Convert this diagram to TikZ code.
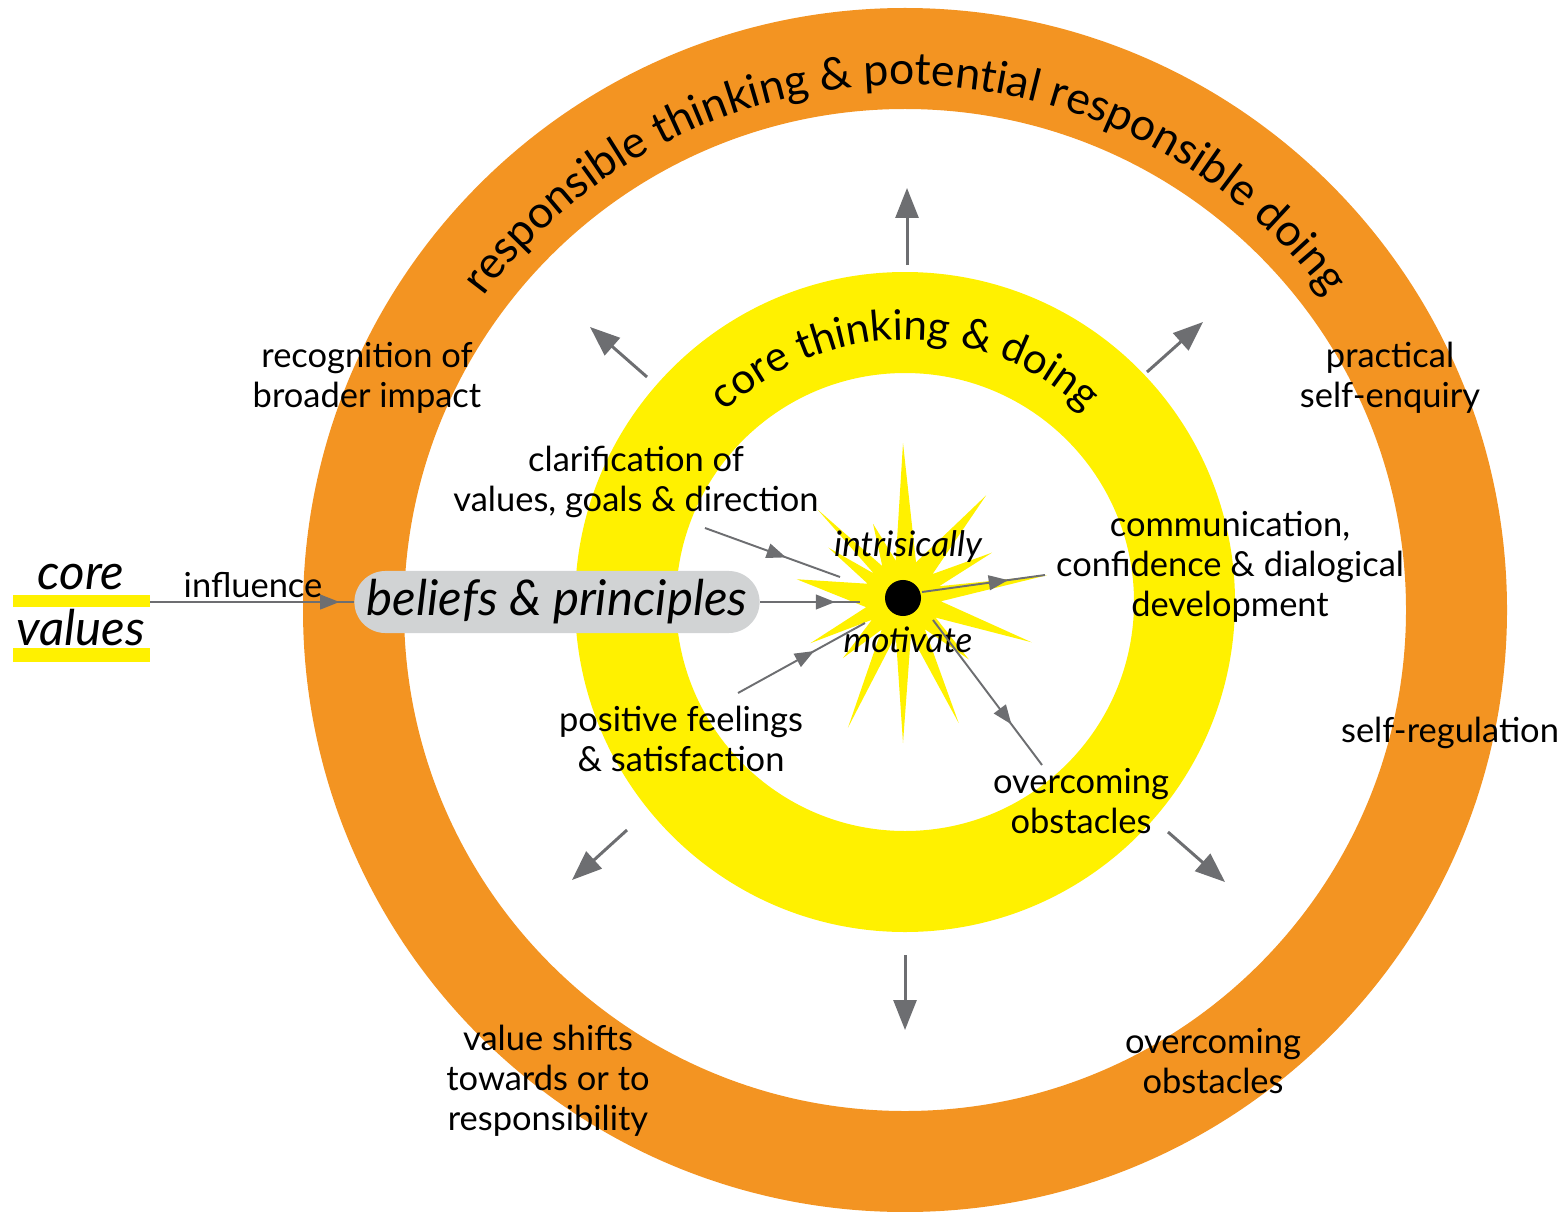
\documentclass[tikz,border=0pt]{standalone}
\usepackage{fontspec}
\setmainfont{Lato}
\usetikzlibrary{arrows.meta,decorations.markings,decorations.text}
\definecolor{ringorange}{HTML}{F39422}
\definecolor{ringyellow}{HTML}{FFF100}
\definecolor{arrowgray}{HTML}{6D6E71}
\definecolor{boxgray}{HTML}{D1D3D4}
\begin{document}
\begin{tikzpicture}[x=0.01cm,y=0.01cm,
  lbl/.style={align=center, font=\fontsize{9.8}{11.4}\selectfont, inner sep=0pt},
  ital/.style={font=\fontsize{10}{11}\selectfont\itshape, inner sep=0pt},
  big/.style={font=\fontsize{14}{15}\selectfont\itshape, inner sep=0pt},
  outarrow/.style={draw=arrowgray, line width=0.85pt, -{Triangle[length=8.5pt,width=6.5pt,fill=arrowgray]}},
  midarrow/.style={color=arrowgray, line width=0.55pt, postaction=decorate,
    decoration={markings, mark=at position #1 with {\arrow{Triangle[length=5.5pt,width=4.2pt]}}}},
  midarrow/.default=0.6,
  bar/.style={fill=ringyellow}
]
\useasboundingbox (0,0) rectangle (1564,1211);

% rings
\fill[ringorange, even odd rule] (905,601) circle[radius=602] (905,601) circle[radius=501];
\fill[ringyellow, even odd rule] (905,609) circle[radius=330] (905,609) circle[radius=229];

% curved titles
\path[decoration={text along path, text align=center,
  text={|\fontsize{12.7}{13}\selectfont|responsible thinking {\&} potential responsible doing}}, decorate]
  (905,601) ++(170:525) arc[start angle=170, end angle=10, radius=525];
\path[decoration={text along path, text align=center,
  text={|\fontsize{12}{13}\selectfont|core thinking {\&} doing}}, decorate]
  (905,609) ++(165:262) arc[start angle=165, end angle=15, radius=262];

% starburst
\begin{scope}[shift={(903,613)}]
\fill[ringyellow] (90:155) -- (70:38) -- (51:132) -- (39:38) -- (27:100) -- (18:38) -- (9:146) -- (-5:38)
 -- (-19:136) -- (-31:38) -- (-43:90) -- (-55:38) -- (-66:137) -- (-78:38) -- (-90:145) -- (-101:38)
 -- (-113:141) -- (-124:38) -- (-135:85) -- (-145:38) -- (-154:103) -- (-166:38) -- (170:108) -- (158:38)
 -- (146:90) -- (140:38) -- (134:123) -- (123:38) -- (112:80) -- (101:38) -- cycle;
\end{scope}
\node (dot) [circle, fill=black, minimum size=0.36cm, inner sep=0pt] at (903,613) {};

% core values
\fill[bar] (13,604) rectangle (150,616);
\fill[bar] (13,549) rectangle (150,563);
\node[big] (core) at (81,634) {core};
\node[big] (values) at (81,583) {values};
\coordinate (cvout) at (150,609);

% beliefs box
\node (beliefs) [fill=boxgray, rounded corners=0.31cm, minimum width=4.05cm, minimum height=0.62cm,
  inner sep=0pt, font=\fontsize{14}{15}\selectfont\itshape] at (557,609) {beliefs \& principles};

% labels
\node[lbl] (recog) at (367,833) {recognition of\\broader impact};
\node[lbl] (pract) at (1390,833) {practical\\self-enquiry};
\node[lbl] (selfreg) at (1450,478) {self-regulation};
\node[lbl] (overout) at (1213,150) {overcoming\\obstacles};
\node[lbl] (shifts) at (548,130) {value shifts\\towards or to\\responsibility};
\node[lbl] (clarif) at (636,729) {clarification of\\values, goals \& direction};
\node[lbl] (comm) at (1230,644) {communication,\\confidence \& dialogical\\development};
\node[lbl] (feel) at (681,472) {positive feelings\\\& satisfaction};
\node[lbl] (overin) at (1081,410) {overcoming\\obstacles};
\node[ital] (intr) at (908,664) {intrisically};
\node[ital] (motiv) at (908,571) {motivate};
\node[lbl] (infl) at (253,626) {influence};

% inner connectors
\coordinate (clA) at (705,683); \coordinate (clB) at (840,634);
\coordinate (beB) at (860,609);
\coordinate (feA) at (738,518); \coordinate (feB) at (865,588);
\coordinate (coA) at (922,619); \coordinate (coB) at (1045,636);
\coordinate (ovA) at (933,591); \coordinate (ovB) at (1042,446);
\draw[midarrow=0.93] (cvout) -- (beliefs.west);
\draw[midarrow=0.75] (beliefs.east) -- (beB);
\draw[midarrow=0.6] (clA) -- (clB);
\draw[midarrow=0.6] (feA) -- (feB);
\draw[midarrow=0.7] (coA) -- (coB);
\draw[midarrow=0.72] (ovA) -- (ovB);

% outward arrows
\coordinate (uA) at (907,946);  \coordinate (uB) at (907,1023);
\coordinate (ulA) at (647,834); \coordinate (ulB) at (590,884);
\coordinate (urA) at (1147,839); \coordinate (urB) at (1203,889);
\coordinate (llA) at (627,381); \coordinate (llB) at (572,331);
\coordinate (lrA) at (1168,379); \coordinate (lrB) at (1225,329);
\coordinate (dA) at (905,256);  \coordinate (dB) at (905,181);
\draw[outarrow] (uA) -- (uB);
\draw[outarrow] (ulA) -- (ulB);
\draw[outarrow] (urA) -- (urB);
\draw[outarrow] (llA) -- (llB);
\draw[outarrow] (lrA) -- (lrB);
\draw[outarrow] (dA) -- (dB);
\end{tikzpicture}
\end{document}
